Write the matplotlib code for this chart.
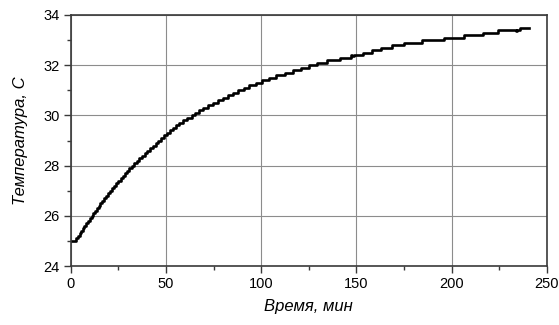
import matplotlib
matplotlib.use('Agg')
import matplotlib.pyplot as plt
from matplotlib.ticker import MultipleLocator

# start time of each 0.1 C step (min) and the temperature held from it
time_min = [0.0, 3.0, 3.9, 4.7, 5.5, 6.3, 7.2, 8.1, 9.0, 10.0,
            11.0, 11.9, 12.9, 13.8, 14.7, 15.6, 16.6, 17.6, 18.6, 19.6,
            20.6, 21.7, 22.8, 23.9, 25.1, 26.2, 27.4, 28.5, 29.7, 30.8,
            32.0, 33.3, 34.6, 36.0, 37.4, 38.8, 40.2, 41.7, 43.2, 44.6,
            46.0, 47.4, 48.9, 50.5, 52.0, 53.6, 55.3, 57.0, 59.0, 61.2,
            63.5, 65.5, 67.6, 69.7, 71.9, 74.5, 77.2, 79.9, 82.6, 85.3,
            88.0, 90.8, 93.8, 97.2, 100.5, 104.0, 108.0, 112.5, 117.0, 121.0,
            125.0, 129.5, 134.5, 141.5, 147.0, 147.8, 148.6, 153.5, 158.5, 163.0,
            168.5, 175.0, 184.5, 196.0, 206.5, 216.5, 224.5, 233.8, 234.4, 236.0,
            240.5]
temp_c = [25.0, 25.1, 25.2, 25.3, 25.4, 25.5, 25.6, 25.7, 25.8, 25.9,
          26.0, 26.1, 26.2, 26.3, 26.4, 26.5, 26.6, 26.7, 26.8, 26.9,
          27.0, 27.1, 27.2, 27.3, 27.4, 27.5, 27.6, 27.7, 27.8, 27.9,
          28.0, 28.1, 28.2, 28.3, 28.4, 28.5, 28.6, 28.7, 28.8, 28.9,
          29.0, 29.1, 29.2, 29.3, 29.4, 29.5, 29.6, 29.7, 29.8, 29.9,
          30.0, 30.1, 30.2, 30.3, 30.4, 30.5, 30.6, 30.7, 30.8, 30.9,
          31.0, 31.1, 31.2, 31.3, 31.4, 31.5, 31.6, 31.7, 31.8, 31.9,
          32.0, 32.1, 32.2, 32.3, 32.4, 32.35, 32.4, 32.5, 32.6, 32.7,
          32.8, 32.9, 33.0, 33.1, 33.2, 33.3, 33.4, 33.35, 33.4, 33.5,
          33.5]

plt.rcParams['font.family'] = ['Liberation Sans', 'DejaVu Sans']

fig = plt.figure(figsize=(5.59, 3.25), dpi=100)
ax = fig.add_axes([70.7 / 559, 1 - 266 / 325, (546.7 - 70.7) / 559, (266 - 15) / 325])

ax.plot(time_min, temp_c, drawstyle='steps-post', color='black', lw=1.9)

ax.set_xlim(0, 250)
ax.set_ylim(24, 34)
ax.xaxis.set_major_locator(MultipleLocator(50))
ax.xaxis.set_minor_locator(MultipleLocator(25))
ax.yaxis.set_major_locator(MultipleLocator(2))
ax.yaxis.set_minor_locator(MultipleLocator(1))
ax.grid(True, which='major', color='#8c8c8c', lw=0.8)
ax.set_axisbelow(True)

for s in ax.spines.values():
    s.set_color('#3a3a3a')
    s.set_linewidth(1.2)

ax.tick_params(which='major', direction='out', length=5, width=1, colors='#3a3a3a',
               labelsize=10.5, labelcolor='black', pad=3)
ax.tick_params(which='minor', direction='out', length=3, width=1, colors='#3a3a3a')

ax.set_xlabel('Время, мин', fontsize=12, style='italic', labelpad=6)
ax.set_ylabel('Температура, С', fontsize=12, style='italic', labelpad=11)

fig.savefig('out.png', dpi=100)
